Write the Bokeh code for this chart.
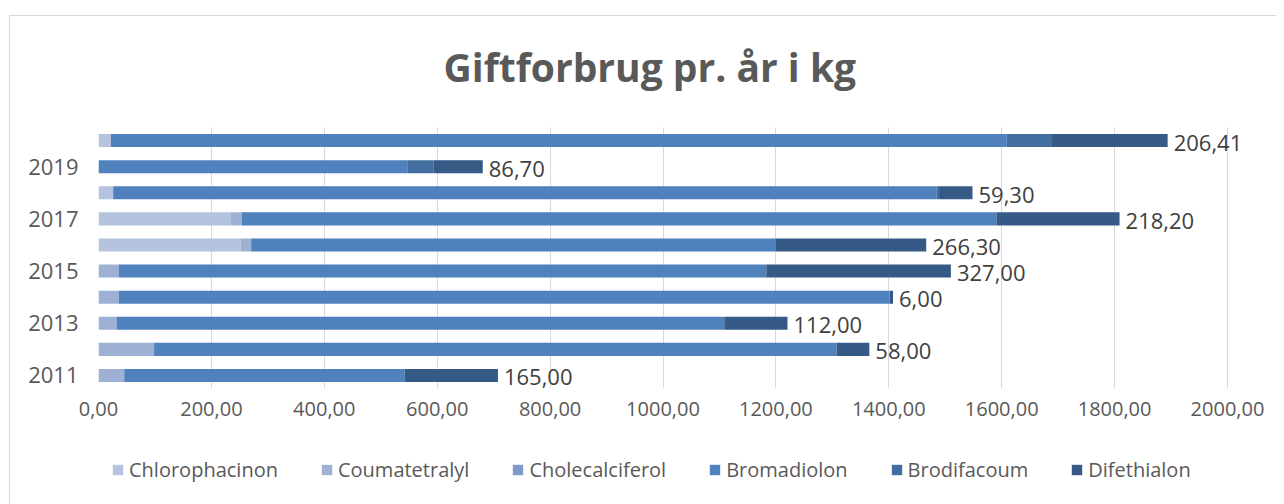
from bokeh.plotting import figure
from bokeh.models import (Range1d, FixedTicker, Legend, LegendItem,
                          ColumnDataSource, Title)
from bokeh.layouts import column
from bokeh.core.properties import value
from bokeh.embed import file_html
from bokeh.resources import INLINE

# ---------------- data ----------------
years = [2011, 2012, 2013, 2014, 2015, 2016, 2017, 2018, 2019, 2020]
chlorophacinon = [0, 0, 0, 0, 0, 251.5, 234.6, 26, 0, 22]
coumatetralyl = [45.6, 98.5, 32, 36, 36, 19, 19, 0, 0, 0]
cholecalciferol = [0, 0, 0, 0, 0, 0, 0, 0, 0, 0]
bromadiolon = [497, 1209, 1076.5, 1365.5, 1147, 929.5, 1337, 1459, 548, 1587]
brodifacoum = [0, 0, 0, 0, 0, 0, 0, 4, 46, 78.6]
difethialon = [165, 58, 112, 6, 327, 266.3, 218.2, 59.3, 86.7, 206.41]

series_names = ["Chlorophacinon", "Coumatetralyl", "Cholecalciferol",
                "Bromadiolon", "Brodifacoum", "Difethialon"]
series_colors = ["#B4C3DE", "#9EB1D4", "#7F9BC8", "#4F81BD", "#436FA0", "#355A86"]

x_ticks = [0, 200, 400, 600, 800, 1000, 1200, 1400, 1600, 1800, 2000]
x_tick_labels = ["0,00", "200,00", "400,00", "600,00", "800,00", "1000,00",
                 "1200,00", "1400,00", "1600,00", "1800,00", "2000,00"]
y_ticks = [2011, 2013, 2015, 2017, 2019]
y_tick_labels = ["2011", "2013", "2015", "2017", "2019"]

title_text = "Giftforbrug pr. år i kg"

FONT = "Open Sans"
GREY = "#595959"

# ---------------- sources ----------------
series_values = [chlorophacinon, coumatetralyl, cholecalciferol,
                 bromadiolon, brodifacoum, difethialon]
data = {"year": years}
for n, v in zip(series_names, series_values):
    data[n] = v
source = ColumnDataSource(data)

totals = [sum(vals) for vals in zip(*series_values)]
labels = [("%.2f" % d).replace(".", ",") for d in difethialon]
label_source = ColumnDataSource(dict(year=years, total=totals, label=labels))

# ---------------- main figure ----------------
p = figure(frame_width=1164, frame_height=261,
           output_backend="svg", toolbar_location=None,
           x_range=Range1d(0, 2062), y_range=Range1d(2010.5, 2020.5),
           min_border_left=98, min_border_right=14,
           min_border_top=127, min_border_bottom=52,
           title=None)
p.outline_line_color = None
p.background_fill_color = "white"
p.border_fill_color = "white"

renderers = p.hbar_stack(series_names, y="year", height=0.5,
                         color=series_colors, line_color=None, source=source)

p.text(x="total", y="year", text="label", source=label_source,
       x_offset=6, y_offset=2, text_baseline="middle", text_align="left",
       text_font=value(FONT), text_font_size="22px", text_color="#404040")

t = Title(text=title_text, align="left", text_font=FONT,
          text_font_size="39px", text_font_style="bold", text_color=GREY,
          offset=345, standoff=70)
p.add_layout(t, "above")

xa = p.xaxis[0]
xa.ticker = FixedTicker(ticks=x_ticks)
xa.major_label_overrides = dict(zip(x_ticks, x_tick_labels))
xa.axis_line_color = None
xa.major_tick_line_color = None
xa.minor_tick_line_color = None
xa.major_tick_out = 0
xa.major_tick_in = 0
xa.major_label_standoff = 13
xa.major_label_text_font = FONT
xa.major_label_text_font_size = "20px"
xa.major_label_text_color = GREY

ya = p.yaxis[0]
ya.ticker = FixedTicker(ticks=y_ticks)
ya.major_label_overrides = dict(zip(y_ticks, y_tick_labels))
ya.axis_line_color = None
ya.major_tick_line_color = None
ya.minor_tick_line_color = None
ya.major_tick_out = 0
ya.major_tick_in = 0
ya.major_label_standoff = 20
ya.major_label_text_font = FONT
ya.major_label_text_font_size = "22px"
ya.major_label_text_color = GREY

p.xgrid.ticker = FixedTicker(ticks=x_ticks)
p.xgrid.grid_line_color = "#D9D9D9"
p.xgrid.grid_line_width = 1
p.ygrid.grid_line_color = None

# ---------------- legend strip ----------------
lg = figure(width=1276, height=64, output_backend="svg", toolbar_location=None,
            x_range=Range1d(-20, -10), y_range=Range1d(5000, 5010),
            x_axis_location=None, y_axis_location=None,
            min_border=0, title=None)
lg.outline_line_color = None
lg.xgrid.visible = False
lg.ygrid.visible = False
lg_renderers = lg.hbar_stack(series_names, y="year", height=0.5,
                             color=series_colors, line_color=None, source=source)
items = [LegendItem(label=n, renderers=[r]) for n, r in zip(series_names, lg_renderers)]
legend = Legend(items=items, orientation="horizontal", location=(13, 21),
                glyph_width=13, glyph_height=13, label_standoff=5, spacing=42,
                border_line_color=None, background_fill_alpha=0,
                label_text_font=FONT, label_text_font_size="20px",
                label_text_color=GREY, padding=0, margin=0)
lg.add_layout(legend, "center")

layout = column(p, lg, spacing=0)
layout.stylesheets = [
    ":host::before { content: ''; position: absolute; left: 9px; top: 15px;"
    " right: 0px; bottom: 0px; border-left: 1px solid #D9D9D9;"
    " border-top: 1px solid #D9D9D9; pointer-events: none; z-index: 10; }"
]

open("out.html", "w").write(file_html(layout, INLINE))
